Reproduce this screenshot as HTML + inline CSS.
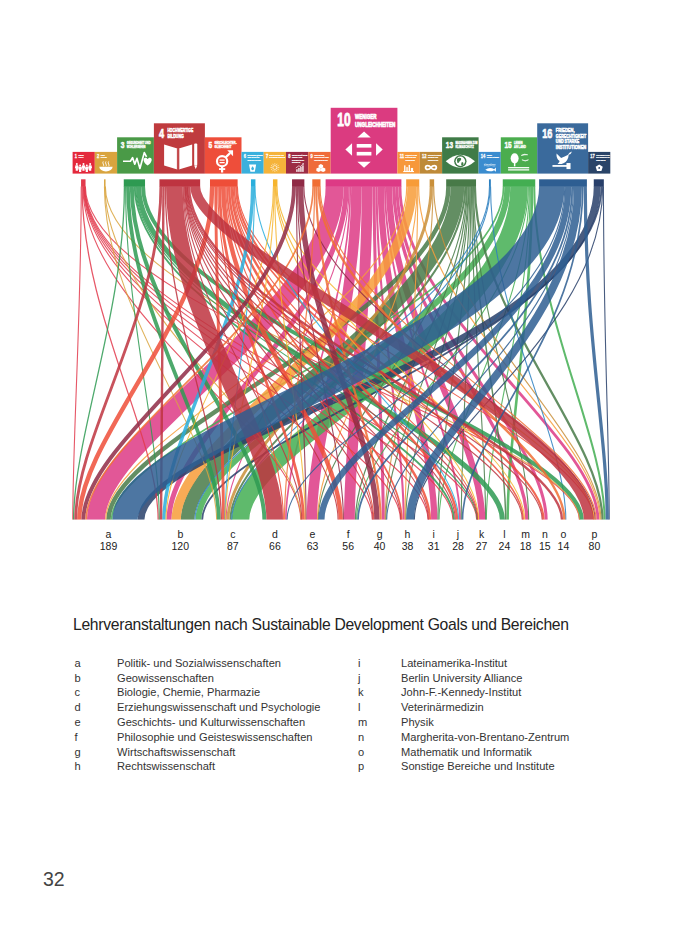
<!DOCTYPE html>
<html><head><meta charset="utf-8"><style>
html,body{margin:0;padding:0;background:#fff;}
body{width:700px;height:933px;position:relative;overflow:hidden;font-family:"Liberation Sans",sans-serif;color:#222;}
svg{position:absolute;left:0;top:0;}
.lt{font-family:"Liberation Sans",sans-serif;font-size:10.5px;fill:#222;}
.title{position:absolute;left:73px;top:615.5px;font-size:15.7px;white-space:nowrap;color:#222;letter-spacing:-0.29px;}
.lk,.lv{position:absolute;font-size:11.1px;line-height:13px;white-space:nowrap;color:#333;}
.pn{position:absolute;left:43px;top:867.5px;font-size:19.5px;color:#444;}
</style></head><body>
<svg width="700" height="933" viewBox="0 0 700 933">
<g font-family="Liberation Sans, sans-serif"><g transform="translate(72.60,151.90) scale(0.2220,0.2170)"><rect x="0" y="0" width="100" height="100" fill="#E4293C"/><text x="10" y="28.3" font-size="26.5" font-weight="bold" fill="#fff" stroke="#fff" stroke-width="1.3" textLength="10.0" lengthAdjust="spacingAndGlyphs">1</text><text x="26.5" y="17.7" font-size="11.5" font-weight="bold" fill="#fff" stroke="#fff" stroke-width="1.1" textLength="23.0" lengthAdjust="spacingAndGlyphs">KEINE</text><text x="26.5" y="28.7" font-size="11.5" font-weight="bold" fill="#fff" stroke="#fff" stroke-width="1.1" textLength="23.0" lengthAdjust="spacingAndGlyphs">ARMUT</text><g fill="#fff"><circle cx="19" cy="56" r="4.5"/><path d="M13,61 h12 l3,14 h-4 v12 h-10 v-12 h-4 z"/><circle cx="34" cy="62" r="4.5"/><path d="M28,67 h12 l3,14 h-4 v12 h-10 v-12 h-4 z"/><circle cx="49" cy="56" r="4.5"/><path d="M43,61 h12 l3,14 h-4 v12 h-10 v-12 h-4 z"/><circle cx="64" cy="62" r="4.5"/><path d="M58,67 h12 l3,14 h-4 v12 h-10 v-12 h-4 z"/><circle cx="79" cy="56" r="4.5"/><path d="M73,61 h12 l3,14 h-4 v12 h-10 v-12 h-4 z"/></g></g><g transform="translate(94.80,151.90) scale(0.2230,0.2170)"><rect x="0" y="0" width="100" height="100" fill="#D9A43E"/><text x="10" y="28.3" font-size="26.5" font-weight="bold" fill="#fff" stroke="#fff" stroke-width="1.3" textLength="10.0" lengthAdjust="spacingAndGlyphs">2</text><text x="26.5" y="17.7" font-size="11.5" font-weight="bold" fill="#fff" stroke="#fff" stroke-width="1.1" textLength="18.4" lengthAdjust="spacingAndGlyphs">KEIN</text><text x="26.5" y="28.7" font-size="11.5" font-weight="bold" fill="#fff" stroke="#fff" stroke-width="1.1" textLength="27.6" lengthAdjust="spacingAndGlyphs">HUNGER</text><g fill="#fff"><path d="M20,68 h60 a30,22 0 0 1 -60,0 z"/><path d="M38,44 q-4,6 0,12 q4,6 0,10 M50,44 q-4,6 0,12 q4,6 0,10 M62,44 q-4,6 0,12 q4,6 0,10" fill="none" stroke="#fff" stroke-width="4"/></g></g><g transform="translate(117.10,137.30) scale(0.3680,0.3630)"><rect x="0" y="0" width="100" height="100" fill="#4A9A47"/><text x="10" y="28.3" font-size="26.5" font-weight="bold" fill="#fff" stroke="#fff" stroke-width="1.3" textLength="10.0" lengthAdjust="spacingAndGlyphs">3</text><text x="26.5" y="17.7" font-size="11.5" font-weight="bold" fill="#fff" stroke="#fff" stroke-width="1.1" textLength="64.4" lengthAdjust="spacingAndGlyphs">GESUNDHEIT UND</text><text x="26.5" y="28.7" font-size="11.5" font-weight="bold" fill="#fff" stroke="#fff" stroke-width="1.1" textLength="50.6" lengthAdjust="spacingAndGlyphs">WOHLERGEHEN</text><g fill="#fff"><path d="M16,66 H36 L42,56 L48,74 L54,58 L62,86 L74,42 L80,54" fill="none" stroke="#fff" stroke-width="4.5" stroke-linejoin="round"/><path d="M86,80 C72,70 73,58 80,58 C83,58 85,60 86,62 C87,60 89,58 92,58 C99,58 100,70 86,80 z" transform="translate(-3,-2)"/></g></g><g transform="translate(153.90,123.30) scale(0.5100,0.5030)"><rect x="0" y="0" width="100" height="100" fill="#BF3B3E"/><text x="10" y="28.3" font-size="26.5" font-weight="bold" fill="#fff" stroke="#fff" stroke-width="1.3" textLength="10.0" lengthAdjust="spacingAndGlyphs">4</text><text x="26.5" y="17.7" font-size="11.5" font-weight="bold" fill="#fff" stroke="#fff" stroke-width="1.1" textLength="50.6" lengthAdjust="spacingAndGlyphs">HOCHWERTIGE</text><text x="26.5" y="28.7" font-size="11.5" font-weight="bold" fill="#fff" stroke="#fff" stroke-width="1.1" textLength="32.2" lengthAdjust="spacingAndGlyphs">BILDUNG</text><g fill="#fff"><path d="M20,42 L46,50 V92 L20,84 Z M49,50 L75,42 V84 L49,92 Z"/><path d="M46,50 V92 M49,50 V92" stroke="#BF3B3E" stroke-width="1.6"/><rect x="79" y="40" width="6" height="44" rx="2"/><path d="M79,84 h6 l-3,7 z"/></g></g><g transform="translate(204.90,137.30) scale(0.3660,0.3630)"><rect x="0" y="0" width="100" height="100" fill="#EE4E3A"/><text x="10" y="28.3" font-size="26.5" font-weight="bold" fill="#fff" stroke="#fff" stroke-width="1.3" textLength="10.0" lengthAdjust="spacingAndGlyphs">5</text><text x="26.5" y="17.7" font-size="11.5" font-weight="bold" fill="#fff" stroke="#fff" stroke-width="1.1" textLength="59.8" lengthAdjust="spacingAndGlyphs">GESCHLECHTER-</text><text x="26.5" y="28.7" font-size="11.5" font-weight="bold" fill="#fff" stroke="#fff" stroke-width="1.1" textLength="46.0" lengthAdjust="spacingAndGlyphs">GLEICHHEIT</text><g fill="#fff"><circle cx="47" cy="66" r="14" fill="none" stroke="#fff" stroke-width="6"/><rect x="44" y="79" width="6" height="18"/><rect x="38.5" y="85" width="17" height="5"/><path d="M56,56 L69,43" stroke="#fff" stroke-width="6"/><path d="M61,36 h16 v16 z"/><rect x="40" y="61" width="14" height="3.5"/><rect x="40" y="68" width="14" height="3.5"/></g></g><g transform="translate(241.50,151.90) scale(0.2220,0.2170)"><rect x="0" y="0" width="100" height="100" fill="#3AB0DD"/><text x="10" y="28.3" font-size="26.5" font-weight="bold" fill="#fff" stroke="#fff" stroke-width="1.3" textLength="10.0" lengthAdjust="spacingAndGlyphs">6</text><text x="26.5" y="17.7" font-size="11.5" font-weight="bold" fill="#fff" stroke="#fff" stroke-width="1.1" textLength="69.0" lengthAdjust="spacingAndGlyphs">SAUBERES WASSER</text><text x="26.5" y="28.7" font-size="11.5" font-weight="bold" fill="#fff" stroke="#fff" stroke-width="1.1" textLength="55.2" lengthAdjust="spacingAndGlyphs">UND SANITÄR-</text><text x="26.5" y="39.7" font-size="11.5" font-weight="bold" fill="#fff" stroke="#fff" stroke-width="1.1" textLength="59.8" lengthAdjust="spacingAndGlyphs">EINRICHTUNGEN</text><g fill="#fff"><path d="M34,58 h32 l-6,34 h-20 z"/><path d="M50,66 c-4,6 -6,9 -6,12 a6,6 0 0 0 12,0 c0,-3 -2,-6 -6,-12 z" fill="#3AB0DD"/></g></g><g transform="translate(263.70,151.90) scale(0.2230,0.2170)"><rect x="0" y="0" width="100" height="100" fill="#F5B33A"/><text x="10" y="28.3" font-size="26.5" font-weight="bold" fill="#fff" stroke="#fff" stroke-width="1.3" textLength="10.0" lengthAdjust="spacingAndGlyphs">7</text><text x="26.5" y="17.7" font-size="11.5" font-weight="bold" fill="#fff" stroke="#fff" stroke-width="1.1" textLength="64.4" lengthAdjust="spacingAndGlyphs">BEZAHLBARE UND</text><text x="26.5" y="28.7" font-size="11.5" font-weight="bold" fill="#fff" stroke="#fff" stroke-width="1.1" textLength="69.0" lengthAdjust="spacingAndGlyphs">SAUBERE ENERGIE</text><g fill="#fff"><circle cx="50" cy="72" r="9" fill="none" stroke="#fff" stroke-width="3"/><line x1="63.0" y1="72.0" x2="70.0" y2="72.0" stroke="#fff" stroke-width="2.5"/><line x1="61.3" y1="78.5" x2="67.3" y2="82.0" stroke="#fff" stroke-width="2.5"/><line x1="56.5" y1="83.3" x2="60.0" y2="89.3" stroke="#fff" stroke-width="2.5"/><line x1="50.0" y1="85.0" x2="50.0" y2="92.0" stroke="#fff" stroke-width="2.5"/><line x1="43.5" y1="83.3" x2="40.0" y2="89.3" stroke="#fff" stroke-width="2.5"/><line x1="38.7" y1="78.5" x2="32.7" y2="82.0" stroke="#fff" stroke-width="2.5"/><line x1="37.0" y1="72.0" x2="30.0" y2="72.0" stroke="#fff" stroke-width="2.5"/><line x1="38.7" y1="65.5" x2="32.7" y2="62.0" stroke="#fff" stroke-width="2.5"/><line x1="43.5" y1="60.7" x2="40.0" y2="54.7" stroke="#fff" stroke-width="2.5"/><line x1="50.0" y1="59.0" x2="50.0" y2="52.0" stroke="#fff" stroke-width="2.5"/><line x1="56.5" y1="60.7" x2="60.0" y2="54.7" stroke="#fff" stroke-width="2.5"/><line x1="61.3" y1="65.5" x2="67.3" y2="62.0" stroke="#fff" stroke-width="2.5"/></g></g><g transform="translate(286.00,151.90) scale(0.2230,0.2170)"><rect x="0" y="0" width="100" height="100" fill="#9D2C45"/><text x="10" y="28.3" font-size="26.5" font-weight="bold" fill="#fff" stroke="#fff" stroke-width="1.3" textLength="10.0" lengthAdjust="spacingAndGlyphs">8</text><text x="26.5" y="17.7" font-size="11.5" font-weight="bold" fill="#fff" stroke="#fff" stroke-width="1.1" textLength="69.0" lengthAdjust="spacingAndGlyphs">MENSCHENWÜRDIGE</text><text x="26.5" y="28.7" font-size="11.5" font-weight="bold" fill="#fff" stroke="#fff" stroke-width="1.1" textLength="46.0" lengthAdjust="spacingAndGlyphs">ARBEIT UND</text><text x="26.5" y="39.7" font-size="11.5" font-weight="bold" fill="#fff" stroke="#fff" stroke-width="1.1" textLength="55.2" lengthAdjust="spacingAndGlyphs">WIRTSCHAFTS-</text><text x="26.5" y="50.7" font-size="11.5" font-weight="bold" fill="#fff" stroke="#fff" stroke-width="1.1" textLength="36.8" lengthAdjust="spacingAndGlyphs">WACHSTUM</text><g fill="#fff"><rect x="46" y="80" width="6" height="12"/><rect x="55" y="74" width="6" height="18"/><rect x="64" y="68" width="6" height="24"/><rect x="73" y="62" width="6" height="30"/><path d="M44,74 L58,64 L64,68 L76,56" fill="none" stroke="#fff" stroke-width="3"/><path d="M72,52 h8 v8 z"/></g></g><g transform="translate(308.30,151.90) scale(0.2240,0.2170)"><rect x="0" y="0" width="100" height="100" fill="#EF6B3A"/><text x="10" y="28.3" font-size="26.5" font-weight="bold" fill="#fff" stroke="#fff" stroke-width="1.3" textLength="10.0" lengthAdjust="spacingAndGlyphs">9</text><text x="26.5" y="17.7" font-size="11.5" font-weight="bold" fill="#fff" stroke="#fff" stroke-width="1.1" textLength="46.0" lengthAdjust="spacingAndGlyphs">INDUSTRIE,</text><text x="26.5" y="28.7" font-size="11.5" font-weight="bold" fill="#fff" stroke="#fff" stroke-width="1.1" textLength="64.4" lengthAdjust="spacingAndGlyphs">INNOVATION UND</text><text x="26.5" y="39.7" font-size="11.5" font-weight="bold" fill="#fff" stroke="#fff" stroke-width="1.1" textLength="59.8" lengthAdjust="spacingAndGlyphs">INFRASTRUKTUR</text><g fill="#fff"><path d="M56,56 l10,5 v11 l-10,5 l-10,-5 v-11 z"/><path d="M46,72 l10,5 v11 l-10,5 l-10,-5 v-11 z"/><path d="M66,72 l10,5 v11 l-10,5 l-10,-5 v-11 z"/></g></g><g transform="translate(330.70,107.80) scale(0.6670,0.6580)"><rect x="0" y="0" width="100" height="100" fill="#DB3B80"/><text x="10" y="28.3" font-size="26.5" font-weight="bold" fill="#fff" stroke="#fff" stroke-width="1.3" textLength="20.0" lengthAdjust="spacingAndGlyphs">10</text><text x="36.5" y="17.7" font-size="11.5" font-weight="bold" fill="#fff" stroke="#fff" stroke-width="1.1" textLength="32.2" lengthAdjust="spacingAndGlyphs">WENIGER</text><text x="36.5" y="28.7" font-size="11.5" font-weight="bold" fill="#fff" stroke="#fff" stroke-width="1.1" textLength="60.5" lengthAdjust="spacingAndGlyphs">UNGLEICHHEITEN</text><g fill="#fff"><path d="M50,36 L60,45 H40 Z"/><path d="M50,91 L60,82 H40 Z"/><path d="M22,63.5 L32,54 V73 Z"/><path d="M78,63.5 L68,54 V73 Z"/><rect x="39" y="55" width="22" height="5.5"/><rect x="39" y="67" width="22" height="5.5"/></g></g><g transform="translate(397.40,151.90) scale(0.2240,0.2170)"><rect x="0" y="0" width="100" height="100" fill="#F7983A"/><text x="10" y="28.3" font-size="26.5" font-weight="bold" fill="#fff" stroke="#fff" stroke-width="1.3" textLength="20.0" lengthAdjust="spacingAndGlyphs">11</text><text x="36.5" y="17.7" font-size="11.5" font-weight="bold" fill="#fff" stroke="#fff" stroke-width="1.1" textLength="50.6" lengthAdjust="spacingAndGlyphs">NACHHALTIGE</text><text x="36.5" y="28.7" font-size="11.5" font-weight="bold" fill="#fff" stroke="#fff" stroke-width="1.1" textLength="46.0" lengthAdjust="spacingAndGlyphs">STÄDTE UND</text><text x="36.5" y="39.7" font-size="11.5" font-weight="bold" fill="#fff" stroke="#fff" stroke-width="1.1" textLength="41.4" lengthAdjust="spacingAndGlyphs">GEMEINDEN</text><g fill="#fff"><rect x="30" y="62" width="6" height="30"/><rect x="40" y="70" width="6" height="22"/><rect x="50" y="60" width="6" height="32"/><rect x="60" y="74" width="10" height="18"/><rect x="26" y="88" width="48" height="5"/></g></g><g transform="translate(419.80,151.90) scale(0.2230,0.2170)"><rect x="0" y="0" width="100" height="100" fill="#BE8A38"/><text x="10" y="28.3" font-size="26.5" font-weight="bold" fill="#fff" stroke="#fff" stroke-width="1.3" textLength="20.0" lengthAdjust="spacingAndGlyphs">12</text><text x="36.5" y="17.7" font-size="11.5" font-weight="bold" fill="#fff" stroke="#fff" stroke-width="1.1" textLength="59.8" lengthAdjust="spacingAndGlyphs">NACHHALTIGE/R</text><text x="36.5" y="28.7" font-size="11.5" font-weight="bold" fill="#fff" stroke="#fff" stroke-width="1.1" textLength="46.0" lengthAdjust="spacingAndGlyphs">KONSUM UND</text><text x="36.5" y="39.7" font-size="11.5" font-weight="bold" fill="#fff" stroke="#fff" stroke-width="1.1" textLength="46.0" lengthAdjust="spacingAndGlyphs">PRODUKTION</text><g fill="#fff"><path d="M50,72 C42,60 26,60 26,72 C26,84 42,84 50,72 C58,60 74,60 74,72 C74,84 58,84 50,72 Z" fill="none" stroke="#fff" stroke-width="8"/></g></g><g transform="translate(442.10,137.30) scale(0.3650,0.3630)"><rect x="0" y="0" width="100" height="100" fill="#3F7B47"/><text x="10" y="28.3" font-size="26.5" font-weight="bold" fill="#fff" stroke="#fff" stroke-width="1.3" textLength="20.0" lengthAdjust="spacingAndGlyphs">13</text><text x="36.5" y="17.7" font-size="11.5" font-weight="bold" fill="#fff" stroke="#fff" stroke-width="1.1" textLength="60.5" lengthAdjust="spacingAndGlyphs">MASSNAHMEN ZUM</text><text x="36.5" y="28.7" font-size="11.5" font-weight="bold" fill="#fff" stroke="#fff" stroke-width="1.1" textLength="50.6" lengthAdjust="spacingAndGlyphs">KLIMASCHUTZ</text><g fill="#fff"><path d="M10,66 Q50,30 90,66 Q50,102 10,66 Z"/><circle cx="50" cy="66" r="17" fill="#3F7B47"/><circle cx="50" cy="66" r="13"/><path d="M42,58 q6,-4 10,0 q2,6 -4,8 q-2,6 -6,4 q-4,-6 0,-12 z M54,68 q6,0 4,8 q-4,4 -6,-2 z" fill="#3F7B47"/></g></g><g transform="translate(478.60,151.90) scale(0.2220,0.2170)"><rect x="0" y="0" width="100" height="100" fill="#3A8CCF"/><text x="10" y="28.3" font-size="26.5" font-weight="bold" fill="#fff" stroke="#fff" stroke-width="1.3" textLength="20.0" lengthAdjust="spacingAndGlyphs">14</text><text x="36.5" y="17.7" font-size="11.5" font-weight="bold" fill="#fff" stroke="#fff" stroke-width="1.1" textLength="23.0" lengthAdjust="spacingAndGlyphs">LEBEN</text><text x="36.5" y="28.7" font-size="11.5" font-weight="bold" fill="#fff" stroke="#fff" stroke-width="1.1" textLength="55.2" lengthAdjust="spacingAndGlyphs">UNTER WASSER</text><g fill="#fff"><path d="M24,58 q7,-3 13,0 q7,3 13,0 q7,-3 13,0 q7,3 13,0" fill="none" stroke="#fff" stroke-width="3"/><path d="M24,64 q7,-3 13,0 q7,3 13,0 q7,-3 13,0 q7,3 13,0" fill="none" stroke="#fff" stroke-width="2"/><path d="M30,82 Q50,68 70,80 L78,72 V92 L70,84 Q50,96 30,82 Z"/></g></g><g transform="translate(500.80,137.30) scale(0.3640,0.3630)"><rect x="0" y="0" width="100" height="100" fill="#4BAD4E"/><text x="10" y="28.3" font-size="26.5" font-weight="bold" fill="#fff" stroke="#fff" stroke-width="1.3" textLength="20.0" lengthAdjust="spacingAndGlyphs">15</text><text x="36.5" y="17.7" font-size="11.5" font-weight="bold" fill="#fff" stroke="#fff" stroke-width="1.1" textLength="23.0" lengthAdjust="spacingAndGlyphs">LEBEN</text><text x="36.5" y="28.7" font-size="11.5" font-weight="bold" fill="#fff" stroke="#fff" stroke-width="1.1" textLength="32.2" lengthAdjust="spacingAndGlyphs">AN LAND</text><g fill="#fff"><ellipse cx="38" cy="58" rx="11" ry="14"/><rect x="36" y="68" width="4" height="12"/><rect x="20" y="82" width="58" height="3.5"/><rect x="20" y="88" width="58" height="3.5"/><path d="M56,50 q8,-6 18,-2 q-8,0 -18,2 z M58,62 q8,5 18,0 q-8,7 -18,0 z" stroke="#fff" stroke-width="1.5"/></g></g><g transform="translate(537.20,123.30) scale(0.5090,0.5030)"><rect x="0" y="0" width="100" height="100" fill="#3A6A9C"/><text x="10" y="28.3" font-size="26.5" font-weight="bold" fill="#fff" stroke="#fff" stroke-width="1.3" textLength="20.0" lengthAdjust="spacingAndGlyphs">16</text><text x="36.5" y="17.7" font-size="11.5" font-weight="bold" fill="#fff" stroke="#fff" stroke-width="1.1" textLength="36.8" lengthAdjust="spacingAndGlyphs">FRIEDEN,</text><text x="36.5" y="28.7" font-size="11.5" font-weight="bold" fill="#fff" stroke="#fff" stroke-width="1.1" textLength="59.8" lengthAdjust="spacingAndGlyphs">GERECHTIGKEIT</text><text x="36.5" y="39.7" font-size="11.5" font-weight="bold" fill="#fff" stroke="#fff" stroke-width="1.1" textLength="46.0" lengthAdjust="spacingAndGlyphs">UND STARKE</text><text x="36.5" y="50.7" font-size="11.5" font-weight="bold" fill="#fff" stroke="#fff" stroke-width="1.1" textLength="59.8" lengthAdjust="spacingAndGlyphs">INSTITUTIONEN</text><g fill="#fff"><path d="M38,60 L47,69 Q53,66 58,64 L62,62 L61,68 Q58,78 48,81 L40,81 Q44,77 44,75 Q37,70 38,60 Z"/><path d="M60,63 Q63,57 68,56 Q67,62 60,63 Z"/><rect x="30" y="83" width="29" height="3.5"/><rect x="57.5" y="79" width="8" height="12"/></g></g><g transform="translate(588.10,151.90) scale(0.2220,0.2170)"><rect x="0" y="0" width="100" height="100" fill="#2A4468"/><text x="10" y="28.3" font-size="26.5" font-weight="bold" fill="#fff" stroke="#fff" stroke-width="1.3" textLength="20.0" lengthAdjust="spacingAndGlyphs">17</text><text x="36.5" y="17.7" font-size="11.5" font-weight="bold" fill="#fff" stroke="#fff" stroke-width="1.1" textLength="60.5" lengthAdjust="spacingAndGlyphs">PARTNERSCHAFTEN</text><text x="36.5" y="28.7" font-size="11.5" font-weight="bold" fill="#fff" stroke="#fff" stroke-width="1.1" textLength="60.5" lengthAdjust="spacingAndGlyphs">ZUR ERREICHUNG</text><text x="36.5" y="39.7" font-size="11.5" font-weight="bold" fill="#fff" stroke="#fff" stroke-width="1.1" textLength="41.4" lengthAdjust="spacingAndGlyphs">DER ZIELE</text><g fill="#fff"><path d="M50,58 L66,68 L60,88 H40 L34,68 Z"/><circle cx="50" cy="74" r="4" fill="#2A4468"/></g></g></g>
<clipPath id="lc"><rect x="0" y="179.3" width="700" height="340.5"/></clipPath><g fill="none" stroke-opacity="0.85" clip-path="url(#lc)"><path d="M334.65,186.5 C334.65,313.2 96.04,436.5 96.04,519.8" stroke="#DD3A85" stroke-width="18.10"/><path d="M346.23,186.5 C346.23,313.2 169.00,436.5 169.00,519.8" stroke="#DD3A85" stroke-width="5.05"/><path d="M349.13,186.5 C349.13,313.2 226.10,436.5 226.10,519.8" stroke="#DD3A85" stroke-width="1.10"/><path d="M350.34,186.5 C350.34,313.2 285.89,436.5 285.89,519.8" stroke="#DD3A85" stroke-width="1.65"/><path d="M356.42,186.5 C356.42,313.2 311.85,436.5 311.85,519.8" stroke="#DD3A85" stroke-width="10.50"/><path d="M367.10,186.5 C367.10,313.2 349.40,436.5 349.40,519.8" stroke="#DD3A85" stroke-width="10.86"/><path d="M374.06,186.5 C374.06,313.2 383.29,436.5 383.29,519.8" stroke="#DD3A85" stroke-width="3.06"/><path d="M376.64,186.5 C376.64,313.2 403.74,436.5 403.74,519.8" stroke="#DD3A85" stroke-width="2.09"/><path d="M380.84,186.5 C380.84,313.2 434.25,436.5 434.25,519.8" stroke="#DD3A85" stroke-width="6.31"/><path d="M384.93,186.5 C384.93,313.2 459.96,436.5 459.96,519.8" stroke="#DD3A85" stroke-width="1.86"/><path d="M389.02,186.5 C389.02,313.2 482.08,436.5 482.08,519.8" stroke="#DD3A85" stroke-width="6.32"/><path d="M393.82,186.5 C393.82,313.2 526.81,436.5 526.81,519.8" stroke="#DD3A85" stroke-width="3.28"/><path d="M396.99,186.5 C396.99,313.2 546.14,436.5 546.14,519.8" stroke="#DD3A85" stroke-width="3.07"/><path d="M399.96,186.5 C399.96,313.2 597.95,436.5 597.95,519.8" stroke="#DD3A85" stroke-width="2.86"/><path d="M503.59,186.5 C503.59,313.2 111.52,436.5 111.52,519.8" stroke="#43AE52" stroke-width="1.66"/><path d="M507.36,186.5 C507.36,313.2 198.38,436.5 198.38,519.8" stroke="#43AE52" stroke-width="5.90"/><path d="M519.06,186.5 C519.06,336.5 240.53,436.5 240.53,519.8" stroke="#43AE52" stroke-width="17.50"/><path d="M528.36,186.5 C528.36,313.2 356.59,436.5 356.59,519.8" stroke="#43AE52" stroke-width="1.10"/><path d="M529.42,186.5 C529.42,313.2 439.09,436.5 439.09,519.8" stroke="#43AE52" stroke-width="1.10"/><path d="M530.29,186.5 C530.29,313.2 486.37,436.5 486.37,519.8" stroke="#43AE52" stroke-width="1.10"/><path d="M531.94,186.5 C531.94,313.2 507.64,436.5 507.64,519.8" stroke="#43AE52" stroke-width="2.60"/><path d="M534.24,186.5 C534.24,313.2 604.60,436.5 604.60,519.8" stroke="#43AE52" stroke-width="2.01"/><path d="M448.39,186.5 C448.39,313.2 108.47,436.5 108.47,519.8" stroke="#487A48" stroke-width="4.45"/><path d="M457.42,186.5 C457.42,313.2 187.61,436.5 187.61,519.8" stroke="#487A48" stroke-width="13.62"/><path d="M465.23,186.5 C465.23,313.2 230.48,436.5 230.48,519.8" stroke="#487A48" stroke-width="2.00"/><path d="M466.42,186.5 C466.42,313.2 318.17,436.5 318.17,519.8" stroke="#487A48" stroke-width="1.10"/><path d="M467.22,186.5 C467.22,313.2 355.44,436.5 355.44,519.8" stroke="#487A48" stroke-width="1.22"/><path d="M468.15,186.5 C468.15,313.2 385.83,436.5 385.83,519.8" stroke="#487A48" stroke-width="1.10"/><path d="M468.83,186.5 C468.83,313.2 405.73,436.5 405.73,519.8" stroke="#487A48" stroke-width="1.10"/><path d="M469.78,186.5 C469.78,313.2 437.99,436.5 437.99,519.8" stroke="#487A48" stroke-width="1.16"/><path d="M470.75,186.5 C470.75,313.2 461.28,436.5 461.28,519.8" stroke="#487A48" stroke-width="1.10"/><path d="M471.52,186.5 C471.52,313.2 485.63,436.5 485.63,519.8" stroke="#487A48" stroke-width="1.10"/><path d="M472.64,186.5 C472.64,313.2 505.61,436.5 505.61,519.8" stroke="#487A48" stroke-width="1.45"/><path d="M473.58,186.5 C473.58,313.2 528.66,436.5 528.66,519.8" stroke="#487A48" stroke-width="1.10"/><path d="M474.91,186.5 C474.91,313.2 602.47,436.5 602.47,519.8" stroke="#487A48" stroke-width="2.24"/><path d="M406.75,186.5 C406.75,313.2 105.67,436.5 105.67,519.8" stroke="#F79C38" stroke-width="1.16"/><path d="M411.97,186.5 C411.97,313.2 176.16,436.5 176.16,519.8" stroke="#F79C38" stroke-width="9.28"/><path d="M417.05,186.5 C417.05,313.2 317.54,436.5 317.54,519.8" stroke="#F79C38" stroke-width="1.10"/><path d="M417.78,186.5 C417.78,313.2 405.08,436.5 405.08,519.8" stroke="#F79C38" stroke-width="1.10"/><path d="M418.65,186.5 C418.65,313.2 599.97,436.5 599.97,519.8" stroke="#F79C38" stroke-width="1.17"/><path d="M431.16,186.5 C431.16,313.2 227.98,436.5 227.98,519.8" stroke="#C98F3A" stroke-width="2.99"/><path d="M433.00,186.5 C433.00,313.2 385.17,436.5 385.17,519.8" stroke="#C98F3A" stroke-width="1.10"/><path d="M433.74,186.5 C433.74,313.2 600.95,436.5 600.95,519.8" stroke="#C98F3A" stroke-width="1.10"/><path d="M489.47,186.5 C489.47,313.2 194.93,436.5 194.93,519.8" stroke="#2B7FC0" stroke-width="1.10"/><path d="M490.13,186.5 C490.13,313.2 231.63,436.5 231.63,519.8" stroke="#2B7FC0" stroke-width="1.10"/><path d="M490.56,186.5 C490.56,313.2 565.82,436.5 565.82,519.8" stroke="#2B7FC0" stroke-width="1.10"/><path d="M597.15,186.5 C597.15,353.1 141.03,436.5 141.03,519.8" stroke="#283F6A" stroke-width="6.79"/><path d="M601.44,186.5 C601.44,336.5 202.23,436.5 202.23,519.8" stroke="#283F6A" stroke-width="1.79"/><path d="M602.71,186.5 C602.71,336.5 414.36,436.5 414.36,519.8" stroke="#283F6A" stroke-width="1.10"/><path d="M603.46,186.5 C603.46,336.5 609.22,436.5 609.22,519.8" stroke="#283F6A" stroke-width="1.10"/><path d="M81.24,186.5 C81.24,313.2 72.78,436.5 72.78,519.8" stroke="#E23A4C" stroke-width="1.10"/><path d="M82.06,186.5 C82.06,313.2 158.16,436.5 158.16,519.8" stroke="#E23A4C" stroke-width="1.28"/><path d="M82.89,186.5 C82.89,313.2 300.75,436.5 300.75,519.8" stroke="#E23A4C" stroke-width="1.10"/><path d="M83.38,186.5 C83.38,313.2 372.30,436.5 372.30,519.8" stroke="#E23A4C" stroke-width="1.10"/><path d="M83.87,186.5 C83.87,313.2 400.47,436.5 400.47,519.8" stroke="#E23A4C" stroke-width="1.10"/><path d="M84.23,186.5 C84.23,313.2 428.02,436.5 428.02,519.8" stroke="#E23A4C" stroke-width="1.10"/><path d="M84.61,186.5 C84.61,313.2 452.90,436.5 452.90,519.8" stroke="#E23A4C" stroke-width="1.10"/><path d="M84.99,186.5 C84.99,313.2 476.64,436.5 476.64,519.8" stroke="#E23A4C" stroke-width="1.10"/><path d="M85.36,186.5 C85.36,313.2 579.38,436.5 579.38,519.8" stroke="#E23A4C" stroke-width="1.10"/><path d="M104.44,186.5 C104.44,313.2 216.61,436.5 216.61,519.8" stroke="#D9A43E" stroke-width="1.10"/><path d="M105.00,186.5 C105.00,313.2 301.11,436.5 301.11,519.8" stroke="#D9A43E" stroke-width="1.10"/><path d="M105.37,186.5 C105.37,313.2 579.74,436.5 579.74,519.8" stroke="#D9A43E" stroke-width="1.10"/><path d="M124.41,186.5 C124.41,313.2 73.61,436.5 73.61,519.8" stroke="#2E9A52" stroke-width="1.29"/><path d="M125.56,186.5 C125.56,313.2 159.31,436.5 159.31,519.8" stroke="#2E9A52" stroke-width="1.10"/><path d="M127.93,186.5 C127.93,313.2 218.85,436.5 218.85,519.8" stroke="#2E9A52" stroke-width="3.72"/><path d="M131.80,186.5 C131.80,313.2 264.39,436.5 264.39,519.8" stroke="#2E9A52" stroke-width="4.01"/><path d="M134.70,186.5 C134.70,313.2 453.99,436.5 453.99,519.8" stroke="#2E9A52" stroke-width="1.81"/><path d="M135.83,186.5 C135.83,313.2 477.06,436.5 477.06,519.8" stroke="#2E9A52" stroke-width="1.10"/><path d="M138.59,186.5 C138.59,313.2 502.35,436.5 502.35,519.8" stroke="#2E9A52" stroke-width="5.07"/><path d="M143.08,186.5 C143.08,313.2 581.88,436.5 581.88,519.8" stroke="#2E9A52" stroke-width="3.91"/><path d="M212.17,186.5 C212.17,313.2 79.27,436.5 79.27,519.8" stroke="#EE4E38" stroke-width="4.38"/><path d="M215.81,186.5 C215.81,313.2 223.47,436.5 223.47,519.8" stroke="#EE4E38" stroke-width="2.90"/><path d="M217.73,186.5 C217.73,313.2 283.44,436.5 283.44,519.8" stroke="#EE4E38" stroke-width="1.10"/><path d="M219.58,186.5 C219.58,313.2 303.50,436.5 303.50,519.8" stroke="#EE4E38" stroke-width="2.75"/><path d="M223.16,186.5 C223.16,313.2 340.70,436.5 340.70,519.8" stroke="#EE4E38" stroke-width="4.42"/><path d="M225.80,186.5 C225.80,313.2 373.75,436.5 373.75,519.8" stroke="#EE4E38" stroke-width="1.10"/><path d="M227.07,186.5 C227.07,313.2 401.87,436.5 401.87,519.8" stroke="#EE4E38" stroke-width="1.66"/><path d="M229.13,186.5 C229.13,313.2 429.86,436.5 429.86,519.8" stroke="#EE4E38" stroke-width="2.46"/><path d="M231.59,186.5 C231.59,313.2 456.98,436.5 456.98,519.8" stroke="#EE4E38" stroke-width="2.47"/><path d="M233.18,186.5 C233.18,313.2 478.06,436.5 478.06,519.8" stroke="#EE4E38" stroke-width="1.10"/><path d="M234.31,186.5 C234.31,313.2 523.28,436.5 523.28,519.8" stroke="#EE4E38" stroke-width="1.55"/><path d="M236.18,186.5 C236.18,313.2 543.51,436.5 543.51,519.8" stroke="#EE4E38" stroke-width="2.19"/><path d="M237.44,186.5 C237.44,313.2 593.81,436.5 593.81,519.8" stroke="#EE4E38" stroke-width="1.10"/><path d="M252.65,186.5 C252.65,313.2 163.92,436.5 163.92,519.8" stroke="#2AAEDC" stroke-width="3.38"/><path d="M254.48,186.5 C254.48,313.2 225.06,436.5 225.06,519.8" stroke="#2AAEDC" stroke-width="1.10"/><path d="M255.03,186.5 C255.03,313.2 458.62,436.5 458.62,519.8" stroke="#2AAEDC" stroke-width="1.10"/><path d="M273.39,186.5 C273.39,313.2 166.04,436.5 166.04,519.8" stroke="#F6B52E" stroke-width="1.10"/><path d="M274.08,186.5 C274.08,313.2 225.46,436.5 225.46,519.8" stroke="#F6B52E" stroke-width="1.10"/><path d="M274.71,186.5 C274.71,313.2 305.24,436.5 305.24,519.8" stroke="#F6B52E" stroke-width="1.10"/><path d="M275.34,186.5 C275.34,313.2 478.67,436.5 478.67,519.8" stroke="#F6B52E" stroke-width="1.10"/><path d="M276.15,186.5 C276.15,313.2 524.61,436.5 524.61,519.8" stroke="#F6B52E" stroke-width="1.12"/><path d="M277.07,186.5 C277.07,313.2 594.34,436.5 594.34,519.8" stroke="#F6B52E" stroke-width="1.10"/><path d="M293.97,186.5 C293.97,313.2 83.40,436.5 83.40,519.8" stroke="#8F2A45" stroke-width="3.87"/><path d="M296.40,186.5 C296.40,313.2 306.10,436.5 306.10,519.8" stroke="#8F2A45" stroke-width="1.10"/><path d="M297.43,186.5 C297.43,313.2 343.44,436.5 343.44,519.8" stroke="#8F2A45" stroke-width="1.10"/><path d="M300.67,186.5 C300.67,313.2 376.90,436.5 376.90,519.8" stroke="#8F2A45" stroke-width="5.43"/><path d="M303.87,186.5 C303.87,313.2 595.20,436.5 595.20,519.8" stroke="#8F2A45" stroke-width="1.10"/><path d="M313.12,186.5 C313.12,313.2 86.16,436.5 86.16,519.8" stroke="#F06E34" stroke-width="1.66"/><path d="M314.53,186.5 C314.53,313.2 284.49,436.5 284.49,519.8" stroke="#F06E34" stroke-width="1.16"/><path d="M316.18,186.5 C316.18,313.2 380.69,436.5 380.69,519.8" stroke="#F06E34" stroke-width="2.15"/><path d="M318.46,186.5 C318.46,313.2 564.34,436.5 564.34,519.8" stroke="#F06E34" stroke-width="2.41"/><path d="M320.09,186.5 C320.09,313.2 596.10,436.5 596.10,519.8" stroke="#F06E34" stroke-width="1.10"/><path d="M160.87,186.5 C160.87,313.2 75.67,436.5 75.67,519.8" stroke="#BE3440" stroke-width="2.83"/><path d="M163.49,186.5 C163.49,313.2 161.03,436.5 161.03,519.8" stroke="#BE3440" stroke-width="2.40"/><path d="M165.34,186.5 C165.34,313.2 221.36,436.5 221.36,519.8" stroke="#BE3440" stroke-width="1.31"/><path d="M174.29,186.5 C174.29,313.2 274.68,436.5 274.68,519.8" stroke="#BE3440" stroke-width="16.58"/><path d="M182.99,186.5 C182.99,313.2 301.71,436.5 301.71,519.8" stroke="#BE3440" stroke-width="1.10"/><path d="M183.84,186.5 C183.84,313.2 338.05,436.5 338.05,519.8" stroke="#BE3440" stroke-width="1.10"/><path d="M184.64,186.5 C184.64,313.2 372.96,436.5 372.96,519.8" stroke="#BE3440" stroke-width="1.10"/><path d="M185.19,186.5 C185.19,313.2 400.84,436.5 400.84,519.8" stroke="#BE3440" stroke-width="1.10"/><path d="M185.60,186.5 C185.60,313.2 428.42,436.5 428.42,519.8" stroke="#BE3440" stroke-width="1.10"/><path d="M186.23,186.5 C186.23,313.2 455.32,436.5 455.32,519.8" stroke="#BE3440" stroke-width="1.10"/><path d="M186.87,186.5 C186.87,313.2 477.49,436.5 477.49,519.8" stroke="#BE3440" stroke-width="1.10"/><path d="M187.32,186.5 C187.32,313.2 522.27,436.5 522.27,519.8" stroke="#BE3440" stroke-width="1.10"/><path d="M187.77,186.5 C187.77,313.2 542.20,436.5 542.20,519.8" stroke="#BE3440" stroke-width="1.10"/><path d="M189.17,186.5 C189.17,313.2 561.96,436.5 561.96,519.8" stroke="#BE3440" stroke-width="2.36"/><path d="M195.25,186.5 C195.25,253.2 588.74,419.8 588.74,519.8" stroke="#BE3440" stroke-width="9.80"/><path d="M551.75,186.5 C551.75,336.5 124.99,436.5 124.99,519.8" stroke="#2E5E92" stroke-width="25.28"/><path d="M564.76,186.5 C564.76,336.5 287.09,436.5 287.09,519.8" stroke="#2E5E92" stroke-width="1.10"/><path d="M568.21,186.5 C568.21,336.5 321.43,436.5 321.43,519.8" stroke="#2E5E92" stroke-width="6.14"/><path d="M572.16,186.5 C572.16,336.5 358.01,436.5 358.01,519.8" stroke="#2E5E92" stroke-width="1.76"/><path d="M573.56,186.5 C573.56,336.5 386.67,436.5 386.67,519.8" stroke="#2E5E92" stroke-width="1.10"/><path d="M578.02,186.5 C578.02,336.5 410.04,436.5 410.04,519.8" stroke="#2E5E92" stroke-width="7.90"/><path d="M582.81,186.5 C582.81,336.5 462.51,436.5 462.51,519.8" stroke="#2E5E92" stroke-width="1.68"/><path d="M585.27,186.5 C585.27,336.5 607.22,436.5 607.22,519.8" stroke="#2E5E92" stroke-width="3.24"/></g>
<rect x="81.06" y="179.3" width="4.48" height="7.5" fill="#E23A4C"/><rect x="104.05" y="179.3" width="1.49" height="7.5" fill="#D9A43E"/><rect x="123.76" y="179.3" width="21.28" height="7.5" fill="#2E9A52"/><rect x="159.45" y="179.3" width="40.69" height="7.5" fill="#BE3440"/><rect x="209.99" y="179.3" width="27.63" height="7.5" fill="#EE4E38"/><rect x="250.96" y="179.3" width="4.48" height="7.5" fill="#2AAEDC"/><rect x="272.96" y="179.3" width="4.48" height="7.5" fill="#F6B52E"/><rect x="292.04" y="179.3" width="12.32" height="7.5" fill="#8F2A45"/><rect x="312.29" y="179.3" width="8.21" height="7.5" fill="#F06E34"/><rect x="325.61" y="179.3" width="75.79" height="7.5" fill="#DD3A85"/><rect x="406.17" y="179.3" width="13.07" height="7.5" fill="#F79C38"/><rect x="429.66" y="179.3" width="4.48" height="7.5" fill="#C98F3A"/><rect x="446.17" y="179.3" width="29.87" height="7.5" fill="#487A48"/><rect x="488.97" y="179.3" width="1.87" height="7.5" fill="#2B7FC0"/><rect x="502.76" y="179.3" width="32.48" height="7.5" fill="#43AE52"/><rect x="539.11" y="179.3" width="47.79" height="7.5" fill="#2E5E92"/><rect x="593.76" y="179.3" width="10.08" height="7.5" fill="#283F6A"/>
<text x="108.5" y="537.8" text-anchor="middle" class="lt">a</text><text x="108.5" y="549.8" text-anchor="middle" class="lt">189</text><text x="180.3" y="537.8" text-anchor="middle" class="lt">b</text><text x="180.3" y="549.8" text-anchor="middle" class="lt">120</text><text x="232.8" y="537.8" text-anchor="middle" class="lt">c</text><text x="232.8" y="549.8" text-anchor="middle" class="lt">87</text><text x="274.9" y="537.8" text-anchor="middle" class="lt">d</text><text x="274.9" y="549.8" text-anchor="middle" class="lt">66</text><text x="312.5" y="537.8" text-anchor="middle" class="lt">e</text><text x="312.5" y="549.8" text-anchor="middle" class="lt">63</text><text x="348.2" y="537.8" text-anchor="middle" class="lt">f</text><text x="348.2" y="549.8" text-anchor="middle" class="lt">56</text><text x="379.6" y="537.8" text-anchor="middle" class="lt">g</text><text x="379.6" y="549.8" text-anchor="middle" class="lt">40</text><text x="407.5" y="537.8" text-anchor="middle" class="lt">h</text><text x="407.5" y="549.8" text-anchor="middle" class="lt">38</text><text x="433.7" y="537.8" text-anchor="middle" class="lt">i</text><text x="433.7" y="549.8" text-anchor="middle" class="lt">31</text><text x="458.0" y="537.8" text-anchor="middle" class="lt">j</text><text x="458.0" y="549.8" text-anchor="middle" class="lt">28</text><text x="481.6" y="537.8" text-anchor="middle" class="lt">k</text><text x="481.6" y="549.8" text-anchor="middle" class="lt">27</text><text x="504.4" y="537.8" text-anchor="middle" class="lt">l</text><text x="504.4" y="549.8" text-anchor="middle" class="lt">24</text><text x="525.5" y="537.8" text-anchor="middle" class="lt">m</text><text x="525.5" y="549.8" text-anchor="middle" class="lt">18</text><text x="544.8" y="537.8" text-anchor="middle" class="lt">n</text><text x="544.8" y="549.8" text-anchor="middle" class="lt">15</text><text x="563.4" y="537.8" text-anchor="middle" class="lt">o</text><text x="563.4" y="549.8" text-anchor="middle" class="lt">14</text><text x="594.4" y="537.8" text-anchor="middle" class="lt">p</text><text x="594.4" y="549.8" text-anchor="middle" class="lt">80</text>
</svg>
<div class="title">Lehrveranstaltungen nach Sustainable Development Goals und Bereichen</div>
<div class="lk" style="left:74.5px;top:656.9px">a</div><div class="lv" style="left:117px;top:656.9px">Politik- und Sozialwissenschaften</div><div class="lk" style="left:74.5px;top:671.7px">b</div><div class="lv" style="left:117px;top:671.7px">Geowissenschaften</div><div class="lk" style="left:74.5px;top:686.4px">c</div><div class="lv" style="left:117px;top:686.4px">Biologie, Chemie, Pharmazie</div><div class="lk" style="left:74.5px;top:701.2px">d</div><div class="lv" style="left:117px;top:701.2px">Erziehungswissenschaft und Psychologie</div><div class="lk" style="left:74.5px;top:715.9px">e</div><div class="lv" style="left:117px;top:715.9px">Geschichts- und Kulturwissenschaften</div><div class="lk" style="left:74.5px;top:730.7px">f</div><div class="lv" style="left:117px;top:730.7px">Philosophie und Geisteswissenschaften</div><div class="lk" style="left:74.5px;top:745.5px">g</div><div class="lv" style="left:117px;top:745.5px">Wirtschaftswissenschaft</div><div class="lk" style="left:74.5px;top:760.2px">h</div><div class="lv" style="left:117px;top:760.2px">Rechtswissenschaft</div>
<div class="lk" style="left:358px;top:656.9px">i</div><div class="lv" style="left:401px;top:656.9px">Lateinamerika-Institut</div><div class="lk" style="left:358px;top:671.7px">j</div><div class="lv" style="left:401px;top:671.7px">Berlin University Alliance</div><div class="lk" style="left:358px;top:686.4px">k</div><div class="lv" style="left:401px;top:686.4px">John-F.-Kennedy-Institut</div><div class="lk" style="left:358px;top:701.2px">l</div><div class="lv" style="left:401px;top:701.2px">Veterinärmedizin</div><div class="lk" style="left:358px;top:715.9px">m</div><div class="lv" style="left:401px;top:715.9px">Physik</div><div class="lk" style="left:358px;top:730.7px">n</div><div class="lv" style="left:401px;top:730.7px">Margherita-von-Brentano-Zentrum</div><div class="lk" style="left:358px;top:745.5px">o</div><div class="lv" style="left:401px;top:745.5px">Mathematik und Informatik</div><div class="lk" style="left:358px;top:760.2px">p</div><div class="lv" style="left:401px;top:760.2px">Sonstige Bereiche und Institute</div>
<div class="pn">32</div>
</body></html>
